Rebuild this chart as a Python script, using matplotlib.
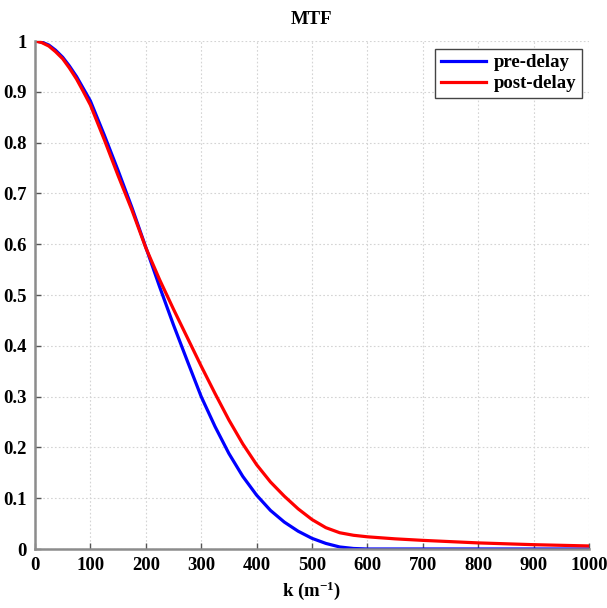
import matplotlib
matplotlib.use("Agg")
import matplotlib.pyplot as plt

# values (k in 1/m)
k_pre = [0, 12, 25, 37, 50, 62, 75, 87, 100, 125, 150, 175, 200, 225, 250,
         275, 300, 325, 350, 375, 400, 425, 450, 475, 500, 525, 550, 575,
         600, 700, 800, 900, 1000]
mtf_pre = [1.0, 0.998, 0.992, 0.982, 0.968, 0.951, 0.93, 0.907, 0.882,
           0.815, 0.745, 0.672, 0.594, 0.516, 0.441, 0.37, 0.30, 0.241,
           0.188, 0.143, 0.106, 0.076, 0.053, 0.035, 0.021, 0.011, 0.004,
           0.001, 0.0, 0.0, 0.0, 0.0, 0.0]

k_post = [0, 12, 25, 37, 50, 62, 75, 87, 100, 125, 150, 175, 200, 225, 250,
          275, 300, 325, 350, 375, 400, 425, 450, 475, 500, 525, 550, 575,
          600, 650, 700, 800, 900, 1000]
mtf_post = [1.0, 0.997, 0.99, 0.979, 0.965, 0.947, 0.925, 0.901, 0.874,
            0.806, 0.735, 0.667, 0.593, 0.53, 0.472, 0.416, 0.36, 0.306,
            0.254, 0.207, 0.166, 0.132, 0.104, 0.079, 0.058, 0.042, 0.032,
            0.027, 0.024, 0.02, 0.017, 0.012, 0.0085, 0.006]

x_ticks = list(range(0, 1001, 100))
y_ticks = [0, 0.1, 0.2, 0.3, 0.4, 0.5, 0.6, 0.7, 0.8, 0.9, 1]
y_labels = ["0", "0.1", "0.2", "0.3", "0.4", "0.5", "0.6", "0.7", "0.8", "0.9", "1"]

plt.rcParams['font.family'] = ['Liberation Serif', 'DejaVu Serif']
plt.rcParams['font.weight'] = 'bold'
plt.rcParams['mathtext.fontset'] = 'custom'
plt.rcParams['mathtext.rm'] = 'Liberation Serif:bold'
plt.rcParams['mathtext.it'] = 'Liberation Serif:bold'
plt.rcParams['mathtext.bf'] = 'Liberation Serif:bold'

fig = plt.figure(figsize=(6.07, 6.08), dpi=100)
ax = fig.add_axes([35 / 607, 1 - 549 / 608, 554 / 607, 508 / 608])

ax.plot(k_pre, mtf_pre, color='blue', lw=2.3, label='pre-delay')
ax.plot(k_post, mtf_post, color='red', lw=2.3, label='post-delay')

ax.set_xlim(0, 1000)
ax.set_ylim(0, 1)
ax.set_xticks(x_ticks)
ax.set_yticks(y_ticks)
ax.set_yticklabels(y_labels)

# matlab-ish look
ax.grid(True, color='#d4d4d4', linestyle=(0, (1.5, 2)), linewidth=0.8)
ax.set_axisbelow(True)
for side in ['top', 'right']:
    ax.spines[side].set_visible(False)
for side in ['left', 'bottom']:
    ax.spines[side].set_color('#8c8c8c')
    ax.spines[side].set_linewidth(1.8)
ax.tick_params(direction='in', length=4, width=1, color='#555555',
               labelsize=13.5, pad=6)

ax.set_title('MTF', fontsize=13.5, fontweight='bold', pad=12)
ax.set_xlabel(r'k (m$^{-1}$)', fontsize=13.5, fontweight='bold', labelpad=4)

leg = ax.legend(loc='upper right', fontsize=13.5, fancybox=False,
                framealpha=1, edgecolor='#444444', handlelength=2.4,
                borderaxespad=0.4, borderpad=0.3, labelspacing=0.2,
                handletextpad=0.4)
leg.get_frame().set_linewidth(1.0)

fig.savefig('out.png', dpi=100)
